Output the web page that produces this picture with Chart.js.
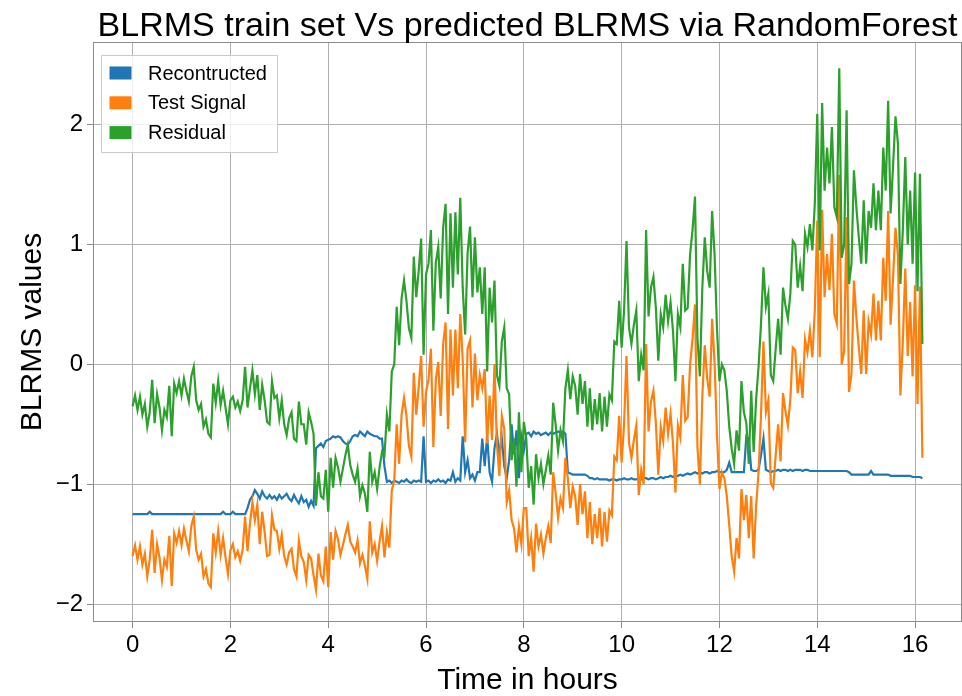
<!DOCTYPE html>
<html><head><meta charset="utf-8">
<script src="https://cdn.jsdelivr.net/npm/chart.js@4/dist/chart.umd.min.js"></script>
<style>html,body{margin:0;padding:0;background:#fff;}#wrap{width:962px;height:696px;}</style>
</head><body><div id="wrap"><canvas id="c" width="962" height="696"></canvas></div>
<script>
// sample times (hours)
const hours = [
0,0.05,0.1,0.15,0.2,0.25,0.3,0.35,0.4,0.45,0.5,0.55,0.6,0.65,0.7,0.75,0.8,0.85,0.9,0.95,
1,1.05,1.1,1.15,1.2,1.25,1.3,1.35,1.4,1.45,1.5,1.55,1.6,1.65,1.7,1.75,1.8,1.85,1.9,1.95,
2,2.05,2.1,2.15,2.2,2.25,2.3,2.35,2.4,2.45,2.5,2.55,2.6,2.65,2.7,2.75,2.8,2.85,2.9,2.95,
3,3.05,3.1,3.15,3.2,3.25,3.3,3.35,3.4,3.45,3.5,3.55,3.6,3.65,3.7,3.75,3.8,3.85,3.9,3.95,
4,4.05,4.1,4.15,4.2,4.25,4.3,4.35,4.4,4.45,4.5,4.55,4.6,4.65,4.7,4.75,4.8,4.85,4.9,4.95,
5,5.05,5.1,5.15,5.2,5.25,5.3,5.35,5.4,5.45,5.5,5.55,5.6,5.65,5.7,5.75,5.8,5.85,5.9,5.95,
6,6.05,6.1,6.15,6.2,6.25,6.3,6.35,6.4,6.45,6.5,6.55,6.6,6.65,6.7,6.75,6.8,6.85,6.9,6.95,
7,7.05,7.1,7.15,7.2,7.25,7.3,7.35,7.4,7.45,7.5,7.55,7.6,7.65,7.7,7.75,7.8,7.85,7.9,7.95,
8,8.05,8.1,8.15,8.2,8.25,8.3,8.35,8.4,8.45,8.5,8.55,8.6,8.65,8.7,8.75,8.8,8.85,8.9,8.95,
9,9.05,9.1,9.15,9.2,9.25,9.3,9.35,9.4,9.45,9.5,9.55,9.6,9.65,9.7,9.75,9.8,9.85,9.9,9.95,
10,10.05,10.1,10.15,10.2,10.25,10.3,10.35,10.4,10.45,10.5,10.55,10.6,10.65,10.7,10.75,10.8,10.85,10.9,10.95,
11,11.05,11.1,11.15,11.2,11.25,11.3,11.35,11.4,11.45,11.5,11.55,11.6,11.65,11.7,11.75,11.8,11.85,11.9,11.95,
12,12.05,12.1,12.15,12.2,12.25,12.3,12.35,12.4,12.45,12.5,12.55,12.6,12.65,12.7,12.75,12.8,12.85,12.9,12.95,
13,13.05,13.1,13.15,13.2,13.25,13.3,13.35,13.4,13.45,13.5,13.55,13.6,13.65,13.7,13.75,13.8,13.85,13.9,13.95,
14,14.05,14.1,14.15,14.2,14.25,14.3,14.35,14.4,14.45,14.5,14.55,14.6,14.65,14.7,14.75,14.8,14.85,14.9,14.95,
15,15.05,15.1,15.15,15.2,15.25,15.3,15.35,15.4,15.45,15.5,15.55,15.6,15.65,15.7,15.75,15.8,15.85,15.9,15.95,
16,16.05,16.1,16.15
];
const reconstructed = [
-1.25,-1.25,-1.25,-1.25,-1.25,-1.25,-1.25,-1.23,-1.25,-1.25,-1.25,-1.25,-1.25,-1.25,-1.25,-1.25,-1.25,-1.25,-1.25,-1.25,
-1.25,-1.25,-1.25,-1.25,-1.25,-1.25,-1.25,-1.25,-1.25,-1.25,-1.25,-1.25,-1.25,-1.25,-1.25,-1.25,-1.25,-1.23,-1.25,-1.25,
-1.25,-1.23,-1.25,-1.25,-1.25,-1.25,-1.25,-1.20,-1.13,-1.10,-1.05,-1.08,-1.12,-1.06,-1.10,-1.12,-1.09,-1.12,-1.10,-1.13,
-1.09,-1.12,-1.10,-1.08,-1.12,-1.14,-1.09,-1.13,-1.16,-1.10,-1.15,-1.13,-1.19,-1.14,-1.18,-0.70,-0.68,-0.66,-0.69,-0.64,
-0.63,-0.62,-0.60,-0.61,-0.60,-0.61,-0.64,-0.66,-0.67,-0.64,-0.60,-0.59,-0.60,-0.56,-0.58,-0.60,-0.56,-0.58,-0.59,-0.60,
-0.60,-0.62,-0.62,-0.85,-0.98,-0.97,-0.99,-0.97,-0.98,-0.99,-0.97,-0.98,-0.96,-0.98,-0.99,-0.97,-0.98,-0.97,-0.98,-0.60,
-0.98,-0.97,-0.99,-0.97,-0.98,-0.96,-0.98,-0.97,-0.99,-0.96,-0.97,-0.90,-0.98,-0.95,-0.97,-0.60,-0.90,-0.80,-0.95,-0.92,
-0.97,-0.90,-0.90,-0.62,-0.85,-0.60,-0.90,-0.98,-0.70,-0.58,-0.75,-0.62,-0.85,-0.95,-0.80,-0.50,-0.75,-0.55,-0.95,-0.60,
-0.72,-0.58,-0.57,-0.60,-0.56,-0.58,-0.57,-0.59,-0.58,-0.57,-0.59,-0.57,-0.58,-0.57,-0.56,-0.57,-0.56,-0.58,-0.90,-0.91,
-0.92,-0.92,-0.92,-0.92,-0.92,-0.92,-0.93,-0.95,-0.95,-0.96,-0.95,-0.96,-0.96,-0.96,-0.96,-0.97,-0.96,-0.96,-0.97,-0.96,
-0.96,-0.95,-0.96,-0.96,-0.95,-0.96,-0.96,-0.95,-0.96,-0.95,-0.95,-0.96,-0.95,-0.95,-0.96,-0.95,-0.94,-0.95,-0.94,-0.94,
-0.93,-0.94,-0.93,-0.93,-0.92,-0.93,-0.92,-0.91,-0.92,-0.91,-0.90,-0.91,-0.90,-0.91,-0.90,-0.90,-0.91,-0.90,-0.90,-0.89,
-0.90,-0.90,-0.90,-0.88,-0.82,-0.90,-0.90,-0.90,-0.90,-0.90,-0.90,-0.60,-0.62,-0.88,-0.89,-0.89,-0.88,-0.76,-0.62,-0.88,
-0.89,-0.90,-0.89,-0.89,-0.88,-0.89,-0.88,-0.88,-0.89,-0.88,-0.89,-0.88,-0.88,-0.88,-0.89,-0.88,-0.88,-0.89,-0.89,-0.89,
-0.89,-0.89,-0.89,-0.89,-0.89,-0.89,-0.89,-0.89,-0.89,-0.89,-0.89,-0.89,-0.89,-0.90,-0.92,-0.92,-0.92,-0.92,-0.92,-0.92,
-0.92,-0.92,-0.89,-0.92,-0.92,-0.92,-0.92,-0.92,-0.92,-0.92,-0.93,-0.93,-0.93,-0.93,-0.93,-0.93,-0.93,-0.93,-0.93,-0.94,
-0.94,-0.94,-0.94,-0.95
];
const testSignal = [
-1.60,-1.51,-1.63,-1.52,-1.67,-1.58,-1.77,-1.63,-1.38,-1.74,-1.50,-1.61,-1.80,-1.63,-1.69,-1.43,-1.85,-1.41,-1.49,-1.39,
-1.51,-1.37,-1.47,-1.56,-1.35,-1.27,-1.55,-1.63,-1.58,-1.77,-1.71,-1.83,-1.86,-1.41,-1.57,-1.39,-1.59,-1.45,-1.61,-1.75,
-1.55,-1.50,-1.61,-1.56,-1.64,-1.55,-1.27,-1.56,-1.33,-1.15,-1.30,-1.17,-1.50,-1.23,-1.40,-1.60,-1.59,-1.26,-1.38,-1.39,
-1.54,-1.42,-1.60,-1.67,-1.57,-1.54,-1.71,-1.77,-1.47,-1.60,-1.65,-1.80,-1.59,-1.62,-1.76,-1.88,-1.58,-1.76,-1.81,-1.52,
-1.86,-1.40,-1.63,-1.39,-1.46,-1.59,-1.51,-1.42,-1.34,-1.48,-1.52,-1.57,-1.47,-1.66,-1.59,-1.68,-1.79,-1.31,-1.57,-1.50,
-1.64,-1.48,-1.35,-1.61,-1.40,-1.53,-1.05,-0.97,-0.50,-0.83,-0.42,-0.28,-0.43,-0.68,-0.77,-0.07,-0.42,-0.19,0.07,-0.52,
-0.23,-0.13,0.13,-0.69,-0.13,0.02,-0.43,0.17,0.35,-0.54,0.29,-0.26,0.29,-0.20,0.42,0.04,-0.65,0.13,0.20,-0.36,
0.09,-0.30,-0.09,-0.20,-0.04,-0.66,-0.26,-0.63,0.00,-0.67,-0.93,-0.43,-0.54,-1.15,-1.05,-1.30,-1.37,-1.57,-1.35,-1.50,
-1.20,-1.20,-1.60,-1.45,-1.73,-1.33,-1.52,-1.42,-1.58,-1.45,-1.35,-1.49,-0.90,-1.07,-1.28,-1.12,-1.20,-0.78,-0.95,-1.20,
-1.02,-1.10,-1.34,-1.00,-1.25,-1.06,-1.45,-1.15,-1.50,-1.25,-1.45,-1.20,-1.52,-1.23,-1.48,-1.22,-1.26,-0.77,-0.80,-0.43,
-0.82,-0.50,0.07,-0.65,-0.78,-0.63,-0.51,-1.09,-0.88,-1.00,0.17,-0.56,-0.31,-0.22,-0.49,-0.92,-0.52,-0.64,-0.36,-0.58,
-0.41,-0.66,-1.07,-0.51,-0.61,-0.09,-0.47,-0.44,0.00,0.21,0.50,-0.69,-1.00,-0.27,0.16,-0.12,-0.27,0.38,0.02,-0.59,
-1.04,-0.90,-0.95,-1.10,-1.34,-1.60,-1.73,-1.45,-1.62,-1.04,-1.30,-1.09,-1.45,-1.10,-1.62,-1.18,-0.90,-0.42,0.19,-0.40,
-0.30,-0.99,-1.03,-0.76,-0.50,-0.81,-0.24,-0.39,-0.51,-0.29,0.14,0.12,-0.24,-0.06,-0.28,0.21,0.10,0.28,0.06,0.45,
1.20,0.06,1.29,0.56,0.92,0.62,1.09,0.42,0.34,1.58,0.00,0.11,1.23,-0.23,-0.08,0.70,0.39,0.14,-0.08,0.45,
-0.08,0.36,0.25,0.59,0.20,0.53,0.20,0.89,0.53,1.28,0.33,0.72,1.14,0.91,-0.26,0.19,0.80,0.07,0.52,-0.10,
0.66,-0.33,0.65,-0.78
];
const residual = [
-0.35,-0.26,-0.38,-0.27,-0.42,-0.33,-0.52,-0.40,-0.13,-0.49,-0.25,-0.36,-0.55,-0.38,-0.44,-0.18,-0.60,-0.16,-0.24,-0.14,
-0.26,-0.12,-0.22,-0.31,-0.10,-0.02,-0.30,-0.38,-0.33,-0.52,-0.46,-0.58,-0.61,-0.16,-0.32,-0.14,-0.34,-0.22,-0.36,-0.50,
-0.30,-0.27,-0.36,-0.31,-0.39,-0.30,-0.02,-0.36,-0.20,-0.05,-0.25,-0.09,-0.38,-0.17,-0.30,-0.48,-0.50,-0.14,-0.28,-0.26,
-0.45,-0.30,-0.50,-0.59,-0.45,-0.40,-0.62,-0.64,-0.31,-0.50,-0.50,-0.67,-0.40,-0.48,-0.58,-1.18,-0.90,-1.10,-1.12,-0.88,
-1.23,-0.78,-1.03,-0.78,-0.86,-0.98,-0.87,-0.76,-0.67,-0.84,-0.92,-0.98,-0.87,-1.10,-1.01,-1.08,-1.23,-0.73,-0.98,-0.90,
-1.04,-0.86,-0.73,-0.76,-0.42,-0.56,-0.06,0.00,0.48,0.16,0.55,0.70,0.53,0.30,0.22,0.90,0.56,0.78,1.05,0.08,
0.75,0.84,1.12,0.28,0.85,0.98,0.55,1.14,1.34,0.42,1.26,0.64,1.27,0.75,1.39,0.64,0.25,0.93,1.15,0.56,
1.06,0.60,0.81,0.42,0.81,-0.06,0.64,0.35,0.70,-0.09,-0.18,0.19,0.31,-0.20,-0.25,-0.80,-0.62,-1.02,-0.40,-0.90,
-0.48,-0.62,-1.03,-0.85,-1.17,-0.75,-0.95,-0.83,-1.00,-0.88,-0.76,-0.92,-0.32,-0.50,-0.72,-0.55,-0.64,-0.20,-0.05,-0.29,
-0.10,-0.18,-0.42,-0.08,-0.33,-0.14,-0.52,-0.20,-0.55,-0.29,-0.50,-0.24,-0.56,-0.27,-0.52,-0.25,-0.30,0.19,0.17,0.53,
0.14,0.45,1.03,0.31,0.17,0.33,0.45,-0.14,0.08,-0.05,1.12,0.40,0.64,0.73,0.47,0.03,0.42,0.31,0.58,0.36,
0.52,0.28,-0.14,0.42,0.31,0.84,0.45,0.47,0.92,1.12,1.40,0.22,-0.10,0.64,1.06,0.78,0.64,1.28,0.92,0.30,
-0.14,0.00,-0.05,-0.22,-0.52,-0.70,-0.83,-0.55,-0.72,-0.14,-0.40,-0.49,-0.83,-0.22,-0.73,-0.29,-0.02,0.34,0.81,0.48,
0.59,-0.09,-0.14,0.13,0.38,0.08,0.64,0.49,0.38,0.59,1.03,1.00,0.64,0.82,0.61,1.09,0.98,1.17,0.95,1.34,
2.09,0.95,2.18,1.45,1.81,1.51,1.98,1.31,1.23,2.47,0.89,1.00,2.12,0.67,0.84,1.62,1.31,1.06,0.84,1.37,
0.84,1.28,1.14,1.51,1.12,1.45,1.12,1.81,1.45,2.20,1.26,1.65,2.07,1.84,0.67,1.12,1.73,1.00,1.45,0.84,
1.60,0.61,1.59,0.17
];
const seriesNames = ['Recontructed', 'Test Signal', 'Residual'];
const seriesColors = ['#1f77b4', '#ff7f0e', '#2ca02c'];
const xTickValues = [0, 2, 4, 6, 8, 10, 12, 14, 16];
const yTickValues = [-2, -1, 0, 1, 2];
const titleText = 'BLRMS train set Vs predicted BLRMS via RandomForest';
const xAxisTitle = 'Time in hours';
const yAxisTitle = 'BLRMS values';

const FONT = '"Liberation Sans", Arial, Helvetica, sans-serif';
const toPoints = arr => hours.map((h, i) => ({x: h, y: arr[i]}));
const seriesValues = [reconstructed, testSignal, residual];

const decor = {
  id: 'decor',
  beforeDraw(chart) {
    const c = chart.ctx; c.save(); c.fillStyle = '#fff'; c.fillRect(0, 0, chart.width, chart.height); c.restore();
  },
  afterDraw(chart) {
    const c = chart.ctx, a = chart.chartArea;
    c.save();
    c.strokeStyle = '#8c8c8c'; c.lineWidth = 1;
    c.strokeRect(Math.round(a.left) + 0.5, Math.round(a.top) + 0.5, Math.round(a.right - a.left) - 1, Math.round(a.bottom - a.top) - 1);
    // legend
    const lx = a.left + 8.5, ly = a.top + 13.5, lw = 176, lh = 97;
    c.fillStyle = 'rgba(255,255,255,0.8)'; c.fillRect(lx, ly, lw, lh);
    c.strokeStyle = '#cccccc'; c.lineWidth = 1; c.strokeRect(lx, ly, lw, lh);
    c.font = '20px ' + FONT; c.textBaseline = 'middle'; c.textAlign = 'left';
    seriesNames.forEach((n, i) => {
      const cy = ly + 17.5 + i * 29.8;
      c.fillStyle = seriesColors[i]; c.fillRect(lx + 8, cy - 6.5, 22, 13);
      c.fillStyle = '#000'; c.fillText(n, lx + 46.5, cy + 1);
    });
    // title
    c.fillStyle = '#000'; c.textAlign = 'center'; c.textBaseline = 'alphabetic';
    c.font = '34px ' + FONT;
    c.fillText(titleText, (a.left + a.right) / 2, 36);
    c.font = '30px ' + FONT;
    c.fillText(xAxisTitle, (a.left + a.right) / 2, 689);
    c.translate(41, (a.top + a.bottom) / 2); c.rotate(-Math.PI / 2);
    c.fillText(yAxisTitle, 0, 0);
    c.restore();
  }
};

const fmt = v => String(v).replace('-', '\u2212');
new Chart(document.getElementById('c'), {
  type: 'line',
  data: {
    datasets: seriesNames.map((n, i) => ({
      label: n, data: toPoints(seriesValues[i]), borderColor: seriesColors[i], backgroundColor: seriesColors[i],
      borderWidth: 2.2, pointRadius: 0, tension: 0, fill: false, order: 2 - i
    }))
  },
  options: {
    responsive: false, animation: false, devicePixelRatio: 1,
    layout: {padding: {top: 42, right: 0, bottom: 0, left: 0}},
    plugins: {legend: {display: false}, title: {display: false}, tooltip: {enabled: false}},
    scales: {
      x: {
        type: 'linear', min: -0.81, max: 16.96,
        afterBuildTicks: ax => { ax.ticks = xTickValues.map(v => ({value: v})); },
        afterFit: ax => { ax.height = 74; },
        grid: {color: '#b0b0b0', lineWidth: 1, tickLength: 6, tickColor: '#8c8c8c', drawTicks: true},
        border: {display: false},
        ticks: {autoSkip: false, maxRotation: 0, color: '#000', font: {family: FONT, size: 24}, padding: 3, callback: fmt}
      },
      y: {
        type: 'linear', min: -2.15, max: 2.69,
        afterBuildTicks: ax => { ax.ticks = yTickValues.map(v => ({value: v})); },
        afterFit: ax => { ax.width = 93; },
        grid: {color: '#b0b0b0', lineWidth: 1, tickLength: 6, tickColor: '#8c8c8c', drawTicks: true},
        border: {display: false},
        ticks: {autoSkip: false, color: '#000', font: {family: FONT, size: 24}, padding: 4, callback: fmt}
      }
    }
  },
  plugins: [decor]
});
</script></body></html>
